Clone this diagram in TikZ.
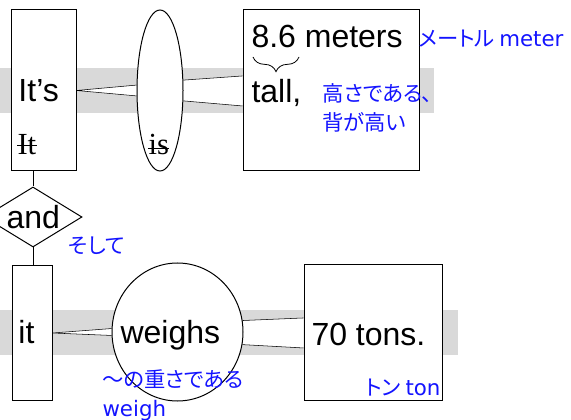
\documentclass[tikz,border=0pt]{standalone}
\usepackage{fontspec}
\setmainfont{Liberation Sans}
\newfontfamily\serifword{Liberation Serif}
\newfontfamily\jpfont[RawFeature=+palt]{Noto Sans CJK JP}
\newfontfamily\glosslatin{DejaVu Sans}
\usepackage{xcolor}
\usetikzlibrary{calc, shapes.geometric, decorations.pathreplacing, backgrounds}

\definecolor{glossblue}{RGB}{20,20,255}
\definecolor{bandgray}{RGB}{217,217,217}

\begin{document}
\begin{tikzpicture}[x=0.75pt, y=-0.75pt, line width=0.75pt,
    wordbox/.style={draw, fill=white, inner sep=0pt},
    word/.style={inner sep=0pt, font=\fontsize{24}{28}\selectfont},
    oldword/.style={inner sep=0pt, font=\serifword\fontsize{23}{27}\selectfont},
    gloss/.style={inner sep=0pt, text=glossblue, align=left,
        font=\jpfont\fontsize{16}{22}\selectfont}]

    \useasboundingbox (0,0) rectangle (571,420);

    % =================================================================
    % 1. FRAMES OF THE TWO CLAUSES
    % =================================================================
    % First clause: It's / is / tall
    \node[wordbox, minimum width=48.75pt, minimum height=120.75pt] (itsbox) at (43.5,90.5) {};
    \node[wordbox, ellipse, minimum width=34.5pt, minimum height=120.75pt] (isell) at (160,90.5) {};
    \node[wordbox, minimum width=132pt, minimum height=120.75pt] (tallbox) at (331,90.5) {};

    % Conjunction diamond between the clauses
    \node[wordbox, diamond, minimum width=73.5pt, minimum height=45pt] (anddia) at (33,217) {};

    % Second clause: it / weighs / 70 tons
    \node[wordbox, minimum width=30pt, minimum height=100.5pt] (itbox) at (32,333) {};
    \node[wordbox, ellipse, minimum width=98.25pt, minimum height=103.5pt] (weighsell) at (177.5,332) {};
    \node[wordbox, minimum width=103.5pt, minimum height=101.25pt] (tonsbox) at (373,332.5) {};

    % =================================================================
    % 2. GRAY BANDS AND WEDGE CONNECTORS (BEHIND THE FRAMES)
    % =================================================================
    \coordinate (tallup) at ($(tallbox.west)+(0pt,10.9pt)$);
    \coordinate (talldown) at ($(tallbox.west)+(0pt,-11.6pt)$);
    \coordinate (tonsup) at ($(tonsbox.west)+(0pt,10.9pt)$);
    \coordinate (tonsdown) at ($(tonsbox.west)+(0pt,-11.6pt)$);

    \begin{scope}[on background layer]
        \fill[bandgray] (0,68) rectangle (434,113);
        \fill[bandgray] (0,310) rectangle (458,355);

        % It's -> is
        \fill[white] (itsbox.east) -- (isell.167) -- (isell.193) -- cycle;
        \draw (isell.167) -- (itsbox.east) -- (isell.193);

        % is -> tall
        \fill[white] (isell.24) -- (tallup) -- (talldown) -- (isell.-24) -- cycle;
        \draw (isell.24) -- (tallup);
        \draw (isell.-24) -- (talldown);

        % it -> weighs
        \fill[white] (itbox.east) -- (weighsell.177) -- (weighsell.183) -- cycle;
        \draw (weighsell.177) -- (itbox.east) -- (weighsell.183);

        % weighs -> 70 tons
        \fill[white] (weighsell.10) -- (tonsup) -- (tonsdown) -- (weighsell.-11) -- cycle;
        \draw (weighsell.10) -- (tonsup);
        \draw (weighsell.-11) -- (tonsdown);
    \end{scope}

    % Links through the diamond
    \draw (itsbox.south -| anddia.north) -- (anddia.north);
    \draw (anddia.south) -- (anddia.south |- itbox.north);

    % =================================================================
    % 3. WORDS
    % =================================================================
    \node[word, anchor=base west] (its) at (18,102) {It’s};
    \node[oldword, anchor=base west] (itold) at (17,155) {It};
    \draw ($(itold.base west)+(0pt,7pt)$) -- ($(itold.base east)+(0pt,7pt)$);
    \node[oldword, anchor=base west] (isold) at (148,155) {is};
    \draw ($(isold.base west)+(0pt,5pt)$) -- ($(isold.base east)+(0pt,5pt)$);

    \node[word, anchor=base west] (meters) at (251,48) {8.6 meters};
    \draw[line width=0.6pt, decoration={brace, mirror, amplitude=11pt}, decorate]
        (253,57) -- (299,57);
    \node[word, anchor=base west] (tall) at (251,103) {tall,};

    \node[word, anchor=base west] (and) at (6,229) {and};

    \node[word, anchor=base west] (it) at (18,344) {it};
    \node[word, anchor=base west] (weighs) at (120,343) {weighs};
    \node[word, anchor=base west] (tons) at (311,345) {70 tons.};

    % =================================================================
    % 4. BLUE GLOSSES
    % =================================================================
    \node[gloss, anchor=base west] (metergloss) at (418,47) {メートル {\glosslatin meter}};
    \node[gloss, anchor=north west] (tallgloss) at (322,83) {高さである、\\背が高い};
    \node[gloss, anchor=base west] (andgloss) at (68,254) {そして};
    \node[gloss, anchor=north west] (weighgloss) at (102,369) {～の重さである\\{\glosslatin weigh}};
    \node[gloss, anchor=base east] (tongloss) at (441,395) {トン {\glosslatin ton}};

\end{tikzpicture}
\end{document}
